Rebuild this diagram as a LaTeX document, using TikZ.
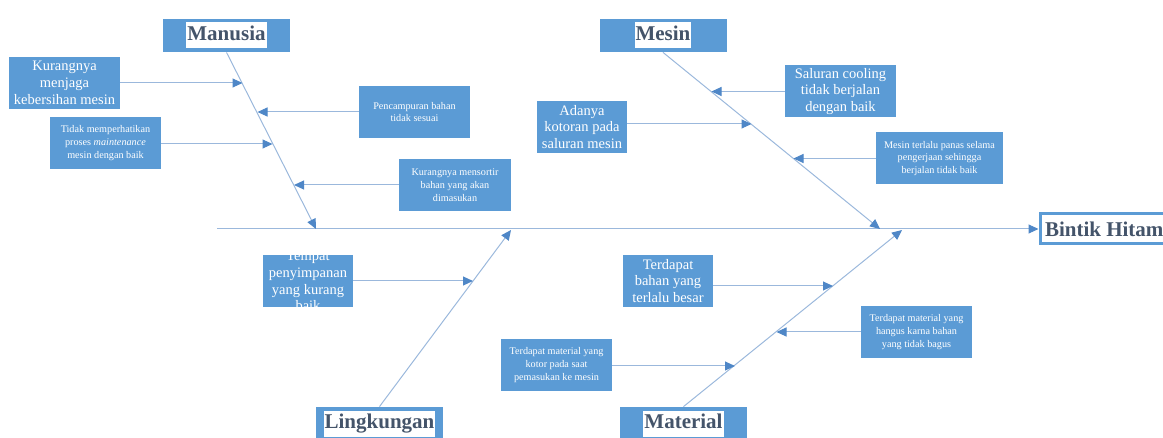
\documentclass[tikz,border=0pt]{standalone}
\usepackage{fontspec}
\setmainfont{Liberation Serif}
\usetikzlibrary{arrows.meta}
\definecolor{boxblue}{HTML}{5B9BD5}
\definecolor{lineblue}{HTML}{9BB8DC}
\definecolor{tipblue}{HTML}{4F87C7}
\definecolor{titlegray}{HTML}{44546A}
\setlength{\fboxsep}{0.5pt}
\tikzset{
  cause/.style={fill=boxblue, text=white, minimum height=26pt, inner sep=0pt, align=center},
  bigcause/.style={cause, font=\fontsize{7.25}{8.35}\selectfont},
  smallcause/.style={cause, font=\fontsize{5.1}{6.4}\selectfont},
  category/.style={fill=boxblue, minimum width=63.5pt, minimum height=16.5pt, inner sep=0pt,
    text=titlegray, font=\fontsize{10.5}{12}\selectfont\bfseries},
  bone/.style={draw=lineblue, line width=0.5pt, -{Triangle[length=5pt,width=4.5pt,color=tipblue]}}
}
\newcommand{\cattitle}[1]{\colorbox{white}{\strut #1}}
\begin{document}
\begin{tikzpicture}[x=0.5pt,y=-0.5pt]
\useasboundingbox (0,0) rectangle (1163,438);

% effect and spine
\node[draw=boxblue, line width=1.5pt, fill=white, anchor=west, minimum height=15pt, inner xsep=2.5pt,
  inner ysep=0pt, text=titlegray, font=\fontsize{10.5}{12}\selectfont\bfseries] (bintik) at (1038.5,229) {Bintik Hitam};
\coordinate (spinestart) at (217,229);
\draw[bone] (spinestart) -- (bintik);

% categories
\node[category] (manusia) at (226.5,35.5) {\cattitle{Manusia}};
\node[category] (mesin) at (663,35.5) {\cattitle{Mesin}};
\node[category] (lingkungan) at (379.5,423.5) {\cattitle{Lingkungan}};
\node[category] (material) at (683.5,423.5) {\cattitle{Material}};

\coordinate (manusiatip) at (316,229);
\coordinate (mesintip) at (880,229);
\coordinate (lingkungantip) at (511,230);
\coordinate (materialtip) at (902,230);
\draw[bone] (manusia.south) -- (manusiatip);
\draw[bone] (mesin.south) -- (mesintip);
\draw[bone] (lingkungan.north) -- (lingkungantip);
\draw[bone] (material.north) -- (materialtip);

% manusia
\node[bigcause, minimum width=55.5pt] (kebersihan) at (64.5,83) {Kurangnya\\menjaga\\kebersihan mesin};
\node[smallcause, minimum width=55.5pt] (pencampuran) at (414.5,112) {Pencampuran bahan\\tidak sesuai};
\node[smallcause, minimum width=55.5pt] (maintenance) at (105.5,143) {Tidak memperhatikan\\proses \textit{maintenance}\\mesin dengan baik};
\node[smallcause, minimum width=56pt] (mensortir) at (455,185) {Kurangnya mensortir\\bahan yang akan\\dimasukan};
\coordinate (kebersihantip) at (242.5,83);
\coordinate (pencampurantip) at (257.5,112);
\coordinate (maintenancetip) at (272.5,144);
\coordinate (mensortirtip) at (294,185);
\draw[bone] (kebersihan.east |- kebersihantip) -- (kebersihantip);
\draw[bone] (pencampuran.west) -- (pencampurantip);
\draw[bone] (maintenance.east |- maintenancetip) -- (maintenancetip);
\draw[bone] (mensortir.west) -- (mensortirtip);

% mesin
\node[bigcause, minimum width=55.5pt] (cooling) at (840.5,91.5) {Saluran cooling\\tidak berjalan\\dengan baik};
\node[bigcause, minimum width=45pt] (kotoran) at (582,127) {Adanya\\kotoran pada\\saluran mesin};
\node[smallcause, minimum width=63.5pt] (panas) at (939.5,158.5) {Mesin terlalu panas selama\\pengerjaan sehingga\\berjalan tidak baik};
\coordinate (coolingtip) at (711.5,91.5);
\coordinate (kotorantip) at (751.5,124);
\coordinate (panastip) at (793.5,158.5);
\draw[bone] (cooling.west) -- (coolingtip);
\draw[bone] (kotoran.east |- kotorantip) -- (kotorantip);
\draw[bone] (panas.west) -- (panastip);

% lingkungan
\node[cause, minimum width=45pt] (penyimpanan) at (308,281) {};
\node[bigcause, fill=none] at (penyimpanan) {Tempat\\penyimpanan\\yang kurang\\baik};
\coordinate (penyimpanantip) at (473,281);
\draw[bone] (penyimpanan.east) -- (penyimpanantip);

% material
\node[bigcause, minimum width=45pt] (besar) at (668,281) {Terdapat\\bahan yang\\terlalu besar};
\node[smallcause, minimum width=55.5pt] (hangus) at (916.5,332) {Terdapat material yang\\hangus karna bahan\\yang tidak bagus};
\node[smallcause, minimum width=55.5pt] (kotor) at (556.5,365) {Terdapat material yang\\kotor pada saat\\pemasukan ke mesin};
\coordinate (besartip) at (833,286);
\coordinate (hangustip) at (776.5,332);
\coordinate (kotortip) at (735,366);
\draw[bone] (besar.east |- besartip) -- (besartip);
\draw[bone] (hangus.west) -- (hangustip);
\draw[bone] (kotor.east |- kotortip) -- (kotortip);

\end{tikzpicture}
\end{document}
